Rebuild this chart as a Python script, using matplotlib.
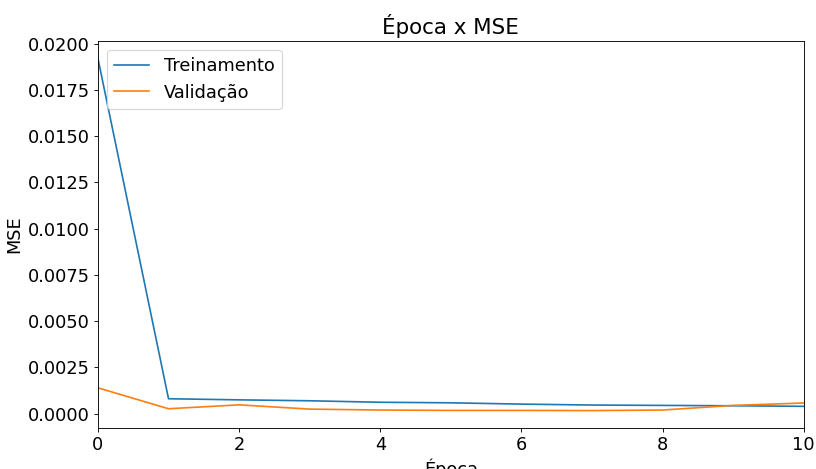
import matplotlib
matplotlib.use("Agg")
import matplotlib.pyplot as plt
from matplotlib.ticker import MultipleLocator, FormatStrFormatter

epocas = list(range(11))
treinamento = [0.0192, 0.00081, 0.00075, 0.00070, 0.00062, 0.00059, 0.00052, 0.00047, 0.00045, 0.00043, 0.00040]
validacao = [0.0014, 0.00027, 0.00048, 0.00025, 0.00020, 0.00018, 0.00018, 0.00017, 0.00020, 0.00045, 0.00058]

plt.rcParams['font.size'] = 16

# figura desenhada a 80 dpi para ficar com 816x469
fig, ax = plt.subplots(figsize=(10.2, 5.8625), dpi=80)
fig.subplots_adjust(left=0.12, right=0.985, top=0.913, bottom=0.087)

ax.plot(epocas, treinamento, label='Treinamento')
ax.plot(epocas, validacao, label='Validação')
ax.set_xlim(0, 10)
ax.yaxis.set_major_locator(MultipleLocator(0.0025))
ax.yaxis.set_major_formatter(FormatStrFormatter('%.4f'))
ax.set_title('Época x MSE')
ax.set_xlabel('Época')
ax.set_ylabel('MSE')
ax.legend(loc='upper left')

fig.savefig('out.png', dpi=80)
